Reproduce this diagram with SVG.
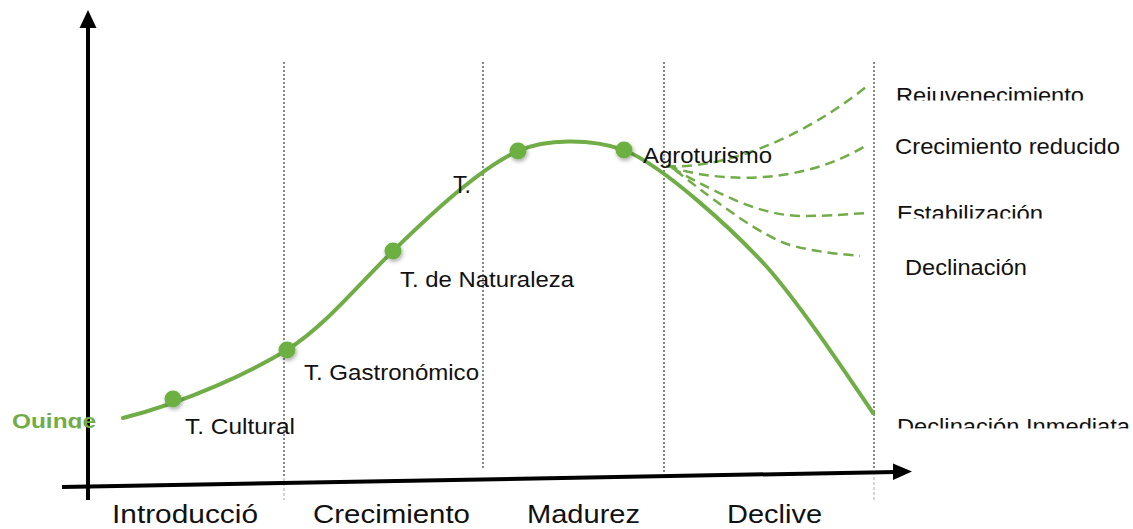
<svg xmlns="http://www.w3.org/2000/svg" width="1133" height="529" viewBox="0 0 1133 529">
<style>
.lbl{font-family:"Liberation Sans",Arial,sans-serif;font-size:22px;fill:#111}
.phase{font-family:"Liberation Sans",Arial,sans-serif;font-size:26px;fill:#111}
.q{font-family:"Liberation Sans",Arial,sans-serif;font-size:20px;font-weight:bold;fill:#70AD47}
.div{stroke:#111;stroke-width:1;stroke-dasharray:2,2;fill:none}
.divb{stroke:#aaa;stroke-width:1;stroke-dasharray:3,2;fill:none}
.axis{stroke:#000;stroke-width:4;fill:none}
.main{stroke:#70AD47;stroke-width:4;fill:none;stroke-linecap:round}
.dash{stroke:#70AD47;stroke-width:2.5;fill:none;stroke-dasharray:10,6}
.dot{fill:#6DB043;filter:url(#sh)}
</style>
<defs>
<filter id="sh" x="-60%" y="-60%" width="220%" height="220%">
<feDropShadow dx="1" dy="2" stdDeviation="2.2" flood-color="#000" flood-opacity="0.35"/>
</filter>
<clipPath id="cQ"><rect x="0" y="400" width="120" height="28.5"/></clipPath>
<clipPath id="cR"><rect x="880" y="75" width="253" height="25.5"/></clipPath>
<clipPath id="cE"><rect x="880" y="195" width="253" height="23.5"/></clipPath>
<clipPath id="cDI"><rect x="880" y="405" width="253" height="23.5"/></clipPath>
</defs>
<rect width="1133" height="529" fill="#fff"/>

<g id="dividers">
<line class="div" x1="284" y1="62" x2="284" y2="478"/>
<line class="divb" x1="284" y1="478" x2="284" y2="500"/>
<line class="div" x1="483" y1="62" x2="483" y2="470"/>
<line class="div" x1="664" y1="62" x2="664" y2="472"/>
<line class="div" x1="874" y1="62" x2="874" y2="468"/>
<line class="divb" x1="874" y1="472" x2="874" y2="500"/>
</g>

<g id="axes">
<line class="axis" x1="88" y1="500" x2="88" y2="26"/>
<polygon points="79.5,28 96.5,28 88,10" fill="#000"/>
<line class="axis" x1="62" y1="487" x2="896" y2="472"/>
<polygon points="893,463.5 893,480 912,471.5" fill="#000"/>
</g>

<g id="connectors">
<path class="dash" d="M666,166 C720,170 800,140 866,87"/>
<path class="dash" d="M668,166 C700,178 790,192 867,145"/>
<path class="dash" d="M672,168 C720,195 760,215 800,216 C830,216 850,214 867,213"/>
<path class="dash" d="M675,170 C720,205 760,235 790,245 C815,252 840,254 860,256"/>
<path class="main" d="M123,418 C190,401 250,372 287,350 C325,326 355,288 393,251 C431,214 480,168 518,151 C545,139 590,138 624,150 C664,166 735,232 767,267 C802,307 845,372 873,413"/>
</g>

<g id="n-cultural"><circle class="dot" cx="173" cy="399" r="8.5"/><text class="lbl" x="185" y="434" textLength="110" lengthAdjust="spacingAndGlyphs">T. Cultural</text></g>
<g id="n-gastronomico"><circle class="dot" cx="287" cy="350" r="8.5"/><text class="lbl" x="304" y="380" textLength="175" lengthAdjust="spacingAndGlyphs">T. Gastronómico</text></g>
<g id="n-naturaleza"><circle class="dot" cx="393" cy="251" r="8.5"/><text class="lbl" x="400" y="287" textLength="174" lengthAdjust="spacingAndGlyphs">T. de Naturaleza</text></g>
<g id="n-t"><circle class="dot" cx="518" cy="151" r="8.5"/><text class="lbl" x="453" y="193" style="font-size:23px">T.</text></g>
<g id="n-agroturismo"><circle class="dot" cx="624" cy="150" r="8.5"/><text class="lbl" x="643" y="163" textLength="129" lengthAdjust="spacingAndGlyphs">Agroturismo</text></g>

<g id="outcomes">
<text class="lbl" x="896" y="103" clip-path="url(#cR)" textLength="188" lengthAdjust="spacingAndGlyphs">Rejuvenecimiento</text>
<text class="lbl" x="895" y="154" textLength="225" lengthAdjust="spacingAndGlyphs">Crecimiento reducido</text>
<text class="lbl" x="897" y="221" clip-path="url(#cE)" textLength="146" lengthAdjust="spacingAndGlyphs">Estabilización</text>
<text class="lbl" x="905" y="275" textLength="122" lengthAdjust="spacingAndGlyphs">Declinación</text>
<text class="lbl" x="897" y="434" clip-path="url(#cDI)" textLength="233" lengthAdjust="spacingAndGlyphs">Declinación Inmediata</text>
</g>

<g id="origin"><text class="q" x="12" y="428" clip-path="url(#cQ)" textLength="84" lengthAdjust="spacingAndGlyphs">Quinge</text></g>

<g id="phases">
<text class="phase" x="112" y="523" textLength="146" lengthAdjust="spacingAndGlyphs">Introducció</text>
<text class="phase" x="313" y="523" textLength="157" lengthAdjust="spacingAndGlyphs">Crecimiento</text>
<text class="phase" x="527" y="523" textLength="113" lengthAdjust="spacingAndGlyphs">Madurez</text>
<text class="phase" x="727" y="523" textLength="95" lengthAdjust="spacingAndGlyphs">Declive</text>
</g>
</svg>
